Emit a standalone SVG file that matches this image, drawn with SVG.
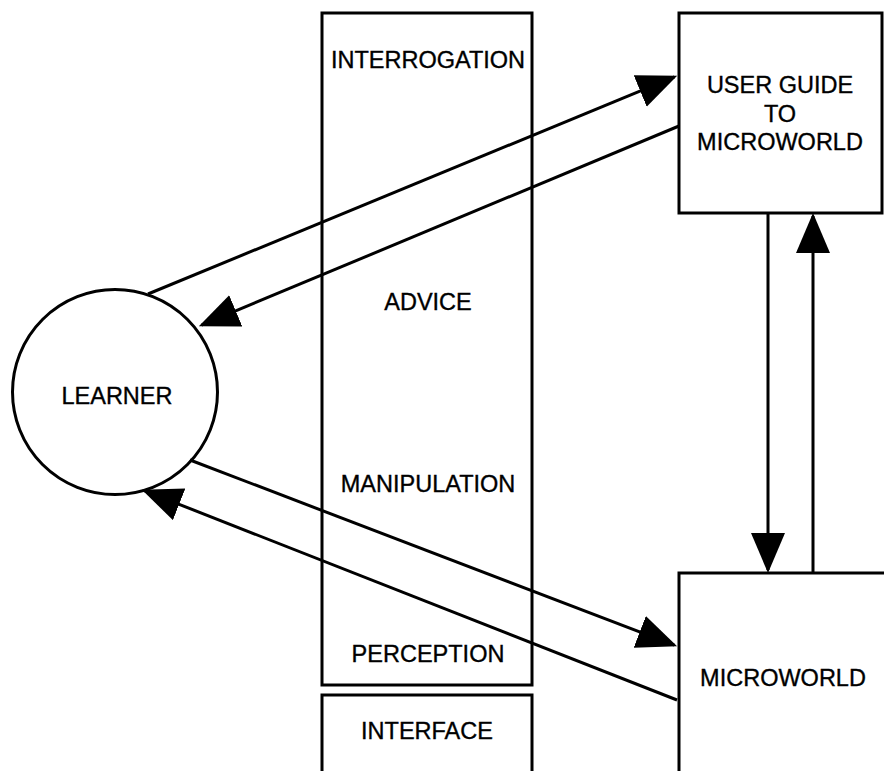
<svg xmlns="http://www.w3.org/2000/svg" width="884" height="771" viewBox="0 0 884 771">
  <style>
    .box { fill: #fff; stroke: #000; stroke-width: 3; }
    .lbl { font-family: "Liberation Sans", Arial, Helvetica, sans-serif; font-size: 23.5px; fill: #000; stroke: #000; stroke-width: 0.35; text-anchor: middle; }
    .flow { stroke: #000; stroke-width: 3; fill: none; marker-end: url(#head); }
  </style>
  <defs>
    <marker id="head" markerUnits="userSpaceOnUse" markerWidth="42" markerHeight="36" refX="37" refY="17" orient="auto">
      <path d="M0,0 L40,17 L0,34 z" fill="#000"/>
    </marker>
  </defs>
  <rect width="884" height="771" fill="#fff"/>

  <!-- interface column with its four channels -->
  <g id="interface-channels">
    <rect class="box" x="322" y="13" width="210" height="672"/>
    <text class="lbl" x="428" y="68">INTERROGATION</text>
    <text class="lbl" x="428" y="310">ADVICE</text>
    <text class="lbl" x="428" y="492">MANIPULATION</text>
    <text class="lbl" x="428" y="662">PERCEPTION</text>
  </g>
  <g id="interface">
    <rect class="box" x="322" y="695" width="210" height="90"/>
    <text class="lbl" x="427" y="739">INTERFACE</text>
  </g>

  <g id="learner">
    <circle class="box" cx="115" cy="392" r="102.5"/>
    <text class="lbl" x="117" y="404">LEARNER</text>
  </g>

  <g id="user-guide">
    <rect class="box" x="679" y="13" width="203" height="200"/>
    <text class="lbl" x="780" y="93">USER GUIDE</text>
    <text class="lbl" x="780" y="122">TO</text>
    <text class="lbl" x="780" y="150">MICROWORLD</text>
  </g>

  <g id="microworld">
    <rect class="box" x="679" y="573" width="210" height="220"/>
    <text class="lbl" x="783" y="686">MICROWORLD</text>
  </g>

  <g id="connectors">
    <line class="flow" x1="148" y1="294" x2="674.4" y2="76.9"/>
    <line class="flow" x1="679" y1="126" x2="201.6" y2="325.1"/>
    <line class="flow" x1="190" y1="460" x2="674.3" y2="645.2"/>
    <line class="flow" x1="677" y1="700" x2="144.7" y2="490.8"/>
    <line class="flow" x1="768" y1="213" x2="768" y2="570"/>
    <line class="flow" x1="813" y1="573" x2="813" y2="216"/>
  </g>
</svg>
